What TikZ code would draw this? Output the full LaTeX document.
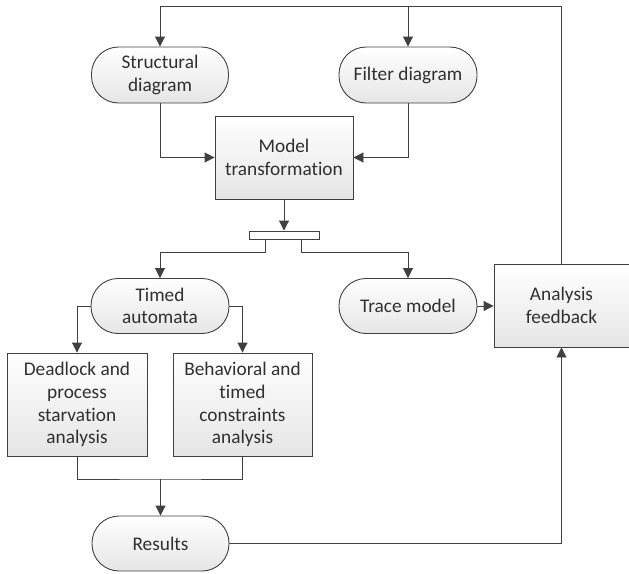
\documentclass[tikz,border=0pt]{standalone}
\usepackage{fontspec}
\setmainfont{Carlito}[Ligatures=NoCommon]
\usetikzlibrary{arrows.meta,calc}
\definecolor{ln}{HTML}{404040}
\definecolor{tx}{HTML}{303030}
\tikzset{
  base/.style={draw=ln, line width=0.9pt, top color=white, bottom color=black!10,
    text=tx, align=center, inner sep=0pt,
    font=\fontsize{19.3}{22.7}\selectfont},
  box/.style={base, rectangle},
  pill/.style={base, rectangle, rounded corners=27pt},
  conn/.style={draw=ln, line width=0.9pt},
  arr/.style={conn, -{Triangle[length=10pt,width=10pt]}},
}
\begin{document}
\begin{tikzpicture}[x=1pt,y=-1pt]
\useasboundingbox (0,0) rectangle (629,573);
\node[pill, minimum width=137pt, minimum height=56pt] (sd) at (160,75) {Structural\\diagram};
\node[pill, minimum width=138pt, minimum height=56pt] (fd) at (408,75) {Filter diagram};
\node[box, minimum width=138pt, minimum height=83pt] (mt) at (284,157.5) {Model\\transformation};
\node[draw=ln, line width=0.9pt, fill=white, minimum width=70pt, minimum height=8pt, inner sep=0pt] (bar) at (284,235) {};
\node[pill, minimum width=138pt, minimum height=55pt] (ta) at (160,306) {Timed\\automata};
\node[pill, minimum width=138pt, minimum height=55pt] (tm) at (408,306) {Trace model};
\node[box, minimum width=135pt, minimum height=83pt] (an) at (561.5,305.5) {Analysis\\feedback};
\node[box, minimum width=140pt, minimum height=103pt] (dl) at (77,404.5) {Deadlock and\\process\\starvation\\analysis};
\node[box, minimum width=139pt, minimum height=103pt] (bh) at (242.5,404.5) {Behavioral and\\timed\\constraints\\analysis};
\node[pill, minimum width=137pt, minimum height=55pt] (rs) at (160.5,543.5) {Results};
% feedback loop at top
\coordinate (tl) at (160,6);
\coordinate (tr) at (an.north |- tl);
\draw[conn] (an.north) -- (tr) -- (tl);
\draw[arr] (tl) -- (sd.north);
\draw[arr] (fd.north |- tl) -- (fd.north);
% into model transformation
\draw[arr] (sd.south) |- (mt.west);
\draw[arr] (fd.south) |- (mt.east);
\draw[arr] (mt.south) -- (bar.north);
% split
\coordinate (s1) at ([xshift=17pt]bar.south west);
\coordinate (s2) at ([xshift=-18pt]bar.south east);
\draw[arr] (s1) -- ($(s1)+(0,13)$) -| (ta.north);
\draw[arr] (s2) -- ($(s2)+(0,13)$) -| (tm.north);
% timed automata to analyses
\draw[arr] (ta.west) -| (dl.north);
\draw[arr] (ta.east) -| (bh.north);
% trace to feedback
\draw[arr] (tm.east) -- (an.west |- tm.east);
% join to results
\coordinate (j) at (rs.north |- 0,479);
\draw[conn] (dl.south) |- (j) -| (bh.south);
\draw[arr] (j) -- (rs.north);
% results to feedback
\draw[arr] (rs.east) -| (an.south);
\end{tikzpicture}
\end{document}
